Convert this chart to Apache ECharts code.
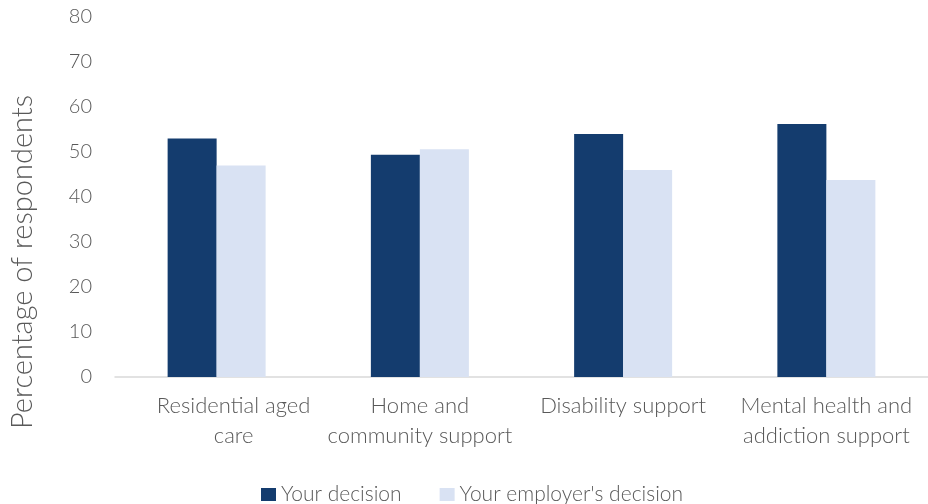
<!DOCTYPE html>
<html>
<head>
<meta charset="utf-8">
<script src="https://cdn.jsdelivr.net/npm/echarts@6/dist/echarts.min.js"></script>
<style>
  html, body { margin: 0; padding: 0; background: #fff; }
  #chart { width: 928px; height: 504px; }
</style>
</head>
<body>
<div id="chart"></div>
<script>
// Sector categories along the x axis
const categories = [
  'Residential aged\ncare',
  'Home and\ncommunity support',
  'Disability support',
  'Mental health and\naddiction support'
];
// Share of respondents (%) for each decision maker
const yourDecision = [53.0, 49.4, 54.0, 56.2];
const employerDecision = [47.0, 50.6, 46.0, 43.8];
const seriesNames = ['Your decision', "Your employer's decision"];
const yTitle = 'Percentage of respondents';
// Value axis range
const yMin = 0, yMax = 80, yStep = 10;

const FONT = 'Lato';
const TEXT = '#595959';

const chart = echarts.init(document.getElementById('chart'), null, { renderer: 'canvas' });
chart.setOption({
  animation: false,
  textStyle: { fontFamily: FONT, fontWeight: 300 },
  grid: { left: 115, top: 17, width: 816, bottom: 127, containLabel: false },
  legend: {
    left: 256, top: 479,
    itemWidth: 15, itemHeight: 13, itemGap: 38,
    icon: 'rect',
    textStyle: { fontFamily: FONT, fontWeight: 300, fontSize: 21, color: TEXT },
    data: seriesNames
  },
  graphic: [{
    type: 'text',
    x: 23, y: 262,
    rotation: Math.PI / 2,
    style: {
      text: yTitle,
      font: '300 29px ' + FONT,
      fill: TEXT,
      textAlign: 'center',
      textVerticalAlign: 'middle'
    }
  }],
  xAxis: {
    type: 'category',
    data: categories,
    axisLine: { lineStyle: { color: '#D9D9D9', width: 1.5 } },
    axisTick: { show: false },
    axisLabel: {
      fontFamily: FONT, fontWeight: 300, fontSize: 22, color: TEXT,
      lineHeight: 30, margin: 14, interval: 0,
      // the first label sits a little right of its bar pair
      formatter: (v, i) => v.split('\n').map(s => (i === 0 ? '{s|' : '{n|') + s + '}').join('\n'),
      rich: {
        n: { fontFamily: FONT, fontWeight: 300, fontSize: 22, color: TEXT, lineHeight: 30 },
        s: { fontFamily: FONT, fontWeight: 300, fontSize: 22, color: TEXT, lineHeight: 30, padding: [0, 0, 0, 34] }
      }
    }
  },
  yAxis: {
    type: 'value',
    min: yMin, max: yMax, interval: yStep,
    axisLine: { show: false },
    axisTick: { show: false },
    splitLine: { show: false },
    axisLabel: { fontFamily: FONT, fontWeight: 300, fontSize: 20, color: TEXT, margin: 23 }
  },
  series: [
    {
      name: seriesNames[0], type: 'bar', data: yourDecision,
      barWidth: 49, barGap: '0%',
      itemStyle: { color: '#143C6E' }
    },
    {
      name: seriesNames[1], type: 'bar', data: employerDecision,
      barWidth: 49,
      itemStyle: { color: '#D9E2F3' }
    }
  ]
});
</script>
</body>
</html>
